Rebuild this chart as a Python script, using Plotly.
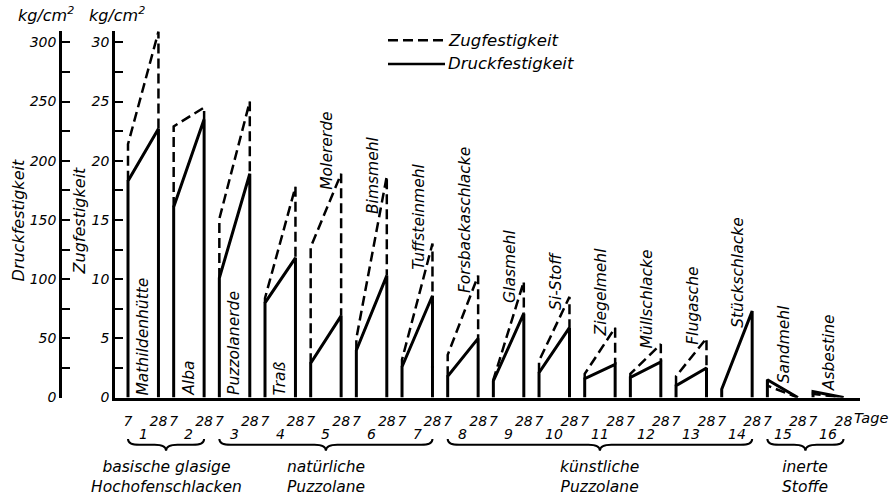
import plotly.graph_objects as go

# Festigkeit of lime/cement mortars with different additives, after 7 and 28 days
materials = ["Mathildenhütte", "Alba", "Puzzolanerde", "Traß", "Molererde", "Bimsmehl",
             "Tuffsteinmehl", "Forsbackaschlacke", "Glasmehl", "Si-Stoff", "Ziegelmehl",
             "Müllschlacke", "Flugasche", "Stückschlacke", "Sandmehl", "Asbestine"]
druck_7 = [183, 161, 101, 80, 29, 40, 26, 18, 14, 21, 16, 17, 10, 7, 15, 5]        # kg/cm²
druck_28 = [227, 235, 189, 118, 69, 103, 86, 50, 71, 59, 28, 30, 25, 73, 0, 0]      # kg/cm²
zug_7 = [21.4, 22.9, 15.1, 8.4, 12.7, 5.0, 3.2, 3.6, 1.5, 3.1, 2.0, 2.0, 1.8, None, 1.0, 0.3]
zug_28 = [30.9, 24.5, 25.0, 17.8, 18.9, 18.7, 13.0, 10.3, 9.8, 8.5, 5.9, 4.5, 5.0, None, 0.0, 0.0]
ages = [7, 28]
groups = [("basische glasige<br>Hochofenschlacken", 1, 2),
          ("natürliche<br>Puzzolane", 3, 7),
          ("künstliche<br>Puzzolane", 8, 14),
          ("inerte<br>Stoffe", 15, 16)]
druck_major = list(range(0, 301, 50))
druck_minor = list(range(25, 300, 50))
zug_major = list(range(0, 31, 5))
zug_minor = [2.5 + 5 * k for k in range(6)]

W, H = 896, 501
FONT = "DejaVu Sans"
INK = "black"

# frame of the plotting area in pixels
PL, PR, PT, PB = 115, 860, 31, 404
SLOT_PX = 45.67


def px_x(p):
    return p / W


def px_y(p):
    return 1 - p / H


def xpos(i, day):
    """x coordinate of material i (1-based) at the given age in days."""
    return i + (day - 17.5) / 31.5


x_left = xpos(1, 7) - (128 - PL) / SLOT_PX
x_right = x_left + (PR - PL) / SLOT_PX
y_top = 31.0
ratio = 10  # 10 kg/cm² Druck share the height of 1 kg/cm² Zug


def fnt(size):
    return dict(family=FONT, size=size, color=INK, style="italic")


def note(text, x, y, size, xref="paper", yref="paper", xanchor="center",
         yanchor="middle", angle=0):
    fig.add_annotation(x=x, y=y, xref=xref, yref=yref, text=text, showarrow=False,
                       xanchor=xanchor, yanchor=yanchor, textangle=angle,
                       font=fnt(size), borderpad=0)


fig = go.Figure()

for k, name in enumerate(materials):
    i = k + 1
    x7, x28 = xpos(i, ages[0]), xpos(i, ages[1])
    d7, d28 = druck_7[k] / ratio, druck_28[k] / ratio
    fig.add_trace(go.Scatter(x=[x7, x7, x28, x28], y=[0, d7, d28, 0], mode="lines",
                             line=dict(color=INK, width=3), showlegend=False,
                             hoverinfo="skip"))
    if zug_7[k] is not None:
        fig.add_trace(go.Scatter(x=[x7, x7, x28, x28], y=[d7, zug_7[k], zug_28[k], d28],
                                 mode="lines",
                                 line=dict(color=INK, width=2.5, dash="10px,5px"),
                                 showlegend=False, hoverinfo="skip"))

# material names, written upright along the columns
for k, name in enumerate(materials):
    i = k + 1
    d7, d28 = druck_7[k] / ratio, druck_28[k] / ratio

    def top(f):
        v = d7 + (d28 - d7) * f
        if zug_7[k] is not None:
            v = max(v, zug_7[k] + (zug_28[k] - zug_7[k]) * f)
        return v

    if d7 >= 8:
        xa, ya = xpos(i, 17.5), 0.1
    else:
        xa = xpos(i, 7 + 21 * 0.55)
        ya = max(top(0.35), top(0.75)) + 0.15
    note(name, xa, ya, 15.5, xref="x", yref="y", yanchor="bottom", angle=-90)

# material numbers under the age labels
for k in range(len(materials)):
    note(str(k + 1), xpos(k + 1, 17.5), px_y(441), 14, xref="x")

# braces and group names
y_end, y_mid, y_tip = px_y(446), px_y(452), px_y(458)
r = 0.25
for label, a, b in groups:
    xl, xr = xpos(a, 7), xpos(b, 28)
    xc = (xl + xr) / 2
    path = (f"M {xl},{y_end} Q {xl},{y_mid} {xl + r},{y_mid} L {xc - r},{y_mid} "
            f"Q {xc},{y_mid} {xc},{y_tip} Q {xc},{y_mid} {xc + r},{y_mid} "
            f"L {xr - r},{y_mid} Q {xr},{y_mid} {xr},{y_end}")
    fig.add_shape(type="path", path=path, xref="x", yref="paper",
                  line=dict(color=INK, width=2))
    note(label, xc, px_y(464), 15.5, xref="x", yanchor="top")

# axis titles and units
note("Druckfestigkeit", px_x(18), px_y(224), 16, angle=-90)
note("Zugfestigkeit", px_x(79), px_y(224), 16, angle=-90)
for cx in (46, 117):
    note("kg/cm<sup>2</sup>", px_x(cx), px_y(15), 16)
note("Tage", px_x(853), px_y(425), 14.5, xanchor="left")

# key
for yy, dash, label in ((41, "10px,5px", "Zugfestigkeit"), (65, "solid", "Druckfestigkeit")):
    fig.add_shape(type="line", xref="paper", yref="paper", x0=px_x(388), x1=px_x(445),
                  y0=px_y(yy), y1=px_y(yy), line=dict(color=INK, width=2.5, dash=dash))
    note(label, px_x(447), px_y(yy), 16.5, xanchor="left")

tick_x, tick_t = [], []
for k in range(len(materials)):
    for d in ages:
        tick_x.append(xpos(k + 1, d))
        tick_t.append(str(d))

axis_common = dict(showline=True, linecolor=INK, linewidth=2.5, ticks="inside",
                   ticklen=8, tickwidth=2, tickcolor=INK, showgrid=False, zeroline=False,
                   tickfont=fnt(14), ticklabelstandoff=0)
minor_common = dict(ticks="inside", ticklen=8, tickwidth=2, tickcolor=INK, showgrid=False)

fig.update_layout(
    width=W, height=H, margin=dict(l=0, r=0, t=0, b=0),
    paper_bgcolor="white", plot_bgcolor="white",
    xaxis=dict(domain=[px_x(PL), px_x(PR)], range=[x_left, x_right], showline=True,
               linecolor=INK, linewidth=3, ticks="", showgrid=False, zeroline=False,
               tickvals=tick_x, ticktext=tick_t, tickangle=0, tickfont=fnt(14),
               ticklabelstandoff=9),
    yaxis=dict(domain=[px_y(PB), px_y(PT)], range=[0, y_top], tickvals=zug_major,
               minor=dict(tickvals=zug_minor, **minor_common), **axis_common),
    yaxis2=dict(domain=[px_y(PB), px_y(PT)], range=[0, y_top * ratio], overlaying="y",
                anchor="free", position=px_x(60), side="left", tickvals=druck_major,
                minor=dict(tickvals=druck_minor, **minor_common), **axis_common),
    showlegend=False,
)
# an empty trace on the Druckfestigkeit axis so that axis is drawn
fig.add_trace(go.Scatter(x=[None], y=[None], yaxis="y2", showlegend=False))

fig.write_html("out.html")
